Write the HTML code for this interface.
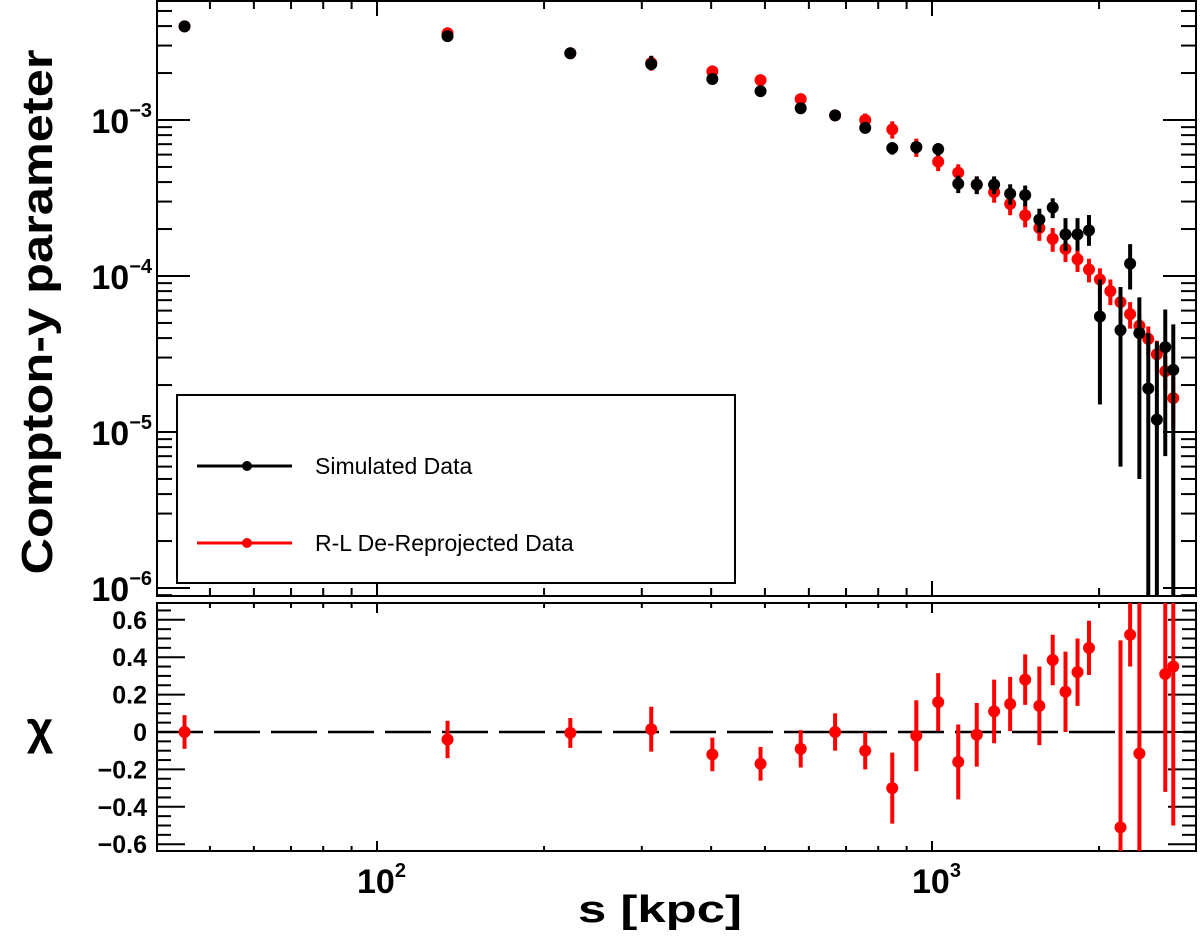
<!DOCTYPE html>
<html><head><meta charset="utf-8"><style>
html,body{margin:0;padding:0;background:#fff;overflow:hidden;}
svg{display:block;font-family:"Liberation Sans",Arial,sans-serif;}
</style></head><body>
<svg id="chart" width="1200" height="941" viewBox="0 0 1200 941"></svg>
<script>
const sKpc=[45,134,223,312,402,491,580,669,758,848,937,1026,1115,1204,1294,1383,1472,1561,1650,1740,1829,1918,2007,2096,2186,2275,2364,2453,2542,2632,2721];
const simY=[3.98e-3,3.45e-3,2.68e-3,2.28e-3,1.83e-3,1.53e-3,1.19e-3,1.07e-3,8.9e-4,6.6e-4,6.7e-4,6.5e-4,3.9e-4,3.85e-4,3.85e-4,3.37e-4,3.3e-4,2.3e-4,2.75e-4,1.85e-4,1.85e-4,1.96e-4,5.5e-5,null,4.5e-5,1.2e-4,4.3e-5,1.9e-5,1.2e-5,3.5e-5,2.5e-5];
const simErrLo=[2e-4,2e-4,1e-4,1e-4,8e-5,6e-5,5e-5,4e-5,4e-5,6e-5,6e-5,6e-5,5e-5,5e-5,5e-5,5e-5,5e-5,4e-5,4e-5,4e-5,4e-5,4e-5,4e-5,null,3.9e-5,3.8e-5,3.8e-5,1.9e-5,1.2e-5,2.8e-5,2.5e-5];
const simErrHi=[2e-4,2e-4,1e-4,3e-4,8e-5,6e-5,5e-5,4e-5,4e-5,6e-5,6e-5,6e-5,5e-5,5e-5,5e-5,5e-5,5e-5,4e-5,4e-5,5e-5,5e-5,5e-5,4e-5,null,4e-5,4e-5,3e-5,2.4e-5,2.6e-5,2.6e-5,2.4e-5];
const rlY=[3.98e-3,3.6e-3,2.68e-3,2.32e-3,2.05e-3,1.8e-3,1.36e-3,1.07e-3,1.0e-3,8.7e-4,6.7e-4,5.4e-4,4.6e-4,3.85e-4,3.45e-4,2.9e-4,2.45e-4,2.03e-4,1.73e-4,1.49e-4,1.28e-4,1.1e-4,9.5e-5,8.0e-5,6.8e-5,5.7e-5,4.8e-5,3.95e-5,3.15e-5,2.45e-5,1.65e-5];
const rlErr=[1.5e-4,3e-4,1e-4,2.5e-4,1.2e-4,1e-4,1e-4,6e-5,1e-4,1.1e-4,9e-5,7e-5,6e-5,5e-5,5e-5,4.5e-5,4e-5,3.5e-5,3e-5,2.6e-5,2.2e-5,1.9e-5,1.7e-5,1.5e-5,1.3e-5,1.1e-5,9e-6,8e-6,7e-6,6e-6,6e-6];
const chiVal=[0,-0.04,-0.005,0.015,-0.12,-0.17,-0.09,0,-0.10,-0.30,-0.02,0.16,-0.16,-0.015,0.11,0.15,0.28,0.14,0.385,0.215,0.32,0.45,null,null,-0.51,0.52,-0.115,null,null,0.31,0.35];
const chiErr=[0.09,0.10,0.08,0.12,0.09,0.09,0.10,0.10,0.10,0.19,0.19,0.155,0.20,0.17,0.17,0.145,0.135,0.21,0.135,0.215,0.18,0.145,null,null,1.0,0.17,1.0,null,null,0.63,0.85];
const yTickExp=[-6,-5,-4,-3];
const chiTicks=[-0.6,-0.4,-0.2,0,0.2,0.4,0.6];
const xTickExp=[2,3];

const NS='http://www.w3.org/2000/svg';
const svg=document.getElementById('chart');
function el(tag,attrs,parent){const e=document.createElementNS(NS,tag);for(const k in attrs)e.setAttribute(k,attrs[k]);(parent||svg).appendChild(e);return e;}
const L=157,R=1196,T=1,B1=596,T2=603,B2=851;
const X=s=>377+555*(Math.log10(s)-2);
const Y=v=>120-156*(Math.log10(v)+3);
const C=v=>732-187*v;
const cT=y=>Math.max(T,Math.min(B1,y));
const cB=y=>Math.max(T2,Math.min(B2,y));
const xMin=Math.pow(10,2+(L-377)/555), xMax=Math.pow(10,2+(R-377)/555);

let f=el('rect',{x:L,y:T,width:R-L,height:B1-T,fill:'none',stroke:'#000','stroke-width':2});

f=el('rect',{x:L,y:T2,width:R-L,height:B2-T2,fill:'none',stroke:'#000','stroke-width':2});


const gx=el('g',{stroke:'#000','stroke-width':2});

for(let d=1;d<=3;d++){for(let m=1;m<10;m++){const s=m*Math.pow(10,d);if(s<xMin||s>xMax)continue;const x=X(s);const maj=m===1;
 el('line',{x1:x,y1:T,x2:x,y2:T+(maj?15:8)},gx);el('line',{x1:x,y1:B1,x2:x,y2:B1-(maj?15:8)},gx);
 el('line',{x1:x,y1:T2,x2:x,y2:T2+(maj?10:5)},gx);el('line',{x1:x,y1:B2,x2:x,y2:B2-(maj?10:5)},gx);}}
xTickExp.forEach(e=>{const t=el('text',{x:X(Math.pow(10,e))-20,y:893,'font-size':34,'font-weight':'bold'});
 
 t.textContent='10';const sup=el('tspan',{'font-size':20,dy:-16},t);sup.textContent=String(e);});

const gy=el('g',{stroke:'#000','stroke-width':2});

for(let d=-7;d<=-2;d++){for(let m=1;m<10;m++){const v=m*Math.pow(10,d);const y=Y(v);if(y<T||y>B1)continue;const len=m===1?33:15;
 el('line',{x1:L,y1:y,x2:L+len,y2:y},gy);el('line',{x1:R,y1:y,x2:R-len,y2:y},gy);}}
yTickExp.forEach(e=>{const t=el('text',{x:152,y:Y(Math.pow(10,e))+13,'font-size':34,'font-weight':'bold','text-anchor':'end'});
 
 const a=el('tspan',{},t);a.textContent='10';const b=el('tspan',{'font-size':20,dy:-16},t);b.textContent='\u2212'+String(-e);});

const gc=el('g',{stroke:'#000','stroke-width':2});

for(let k=-13;k<=13;k++){const v=k*0.05;const y=C(v);if(y<T2||y>B2)continue;const len=(k%4===0)?28:14;
 el('line',{x1:L,y1:y,x2:L+len,y2:y},gc);el('line',{x1:R,y1:y,x2:R-len,y2:y},gc);}
chiTicks.forEach(v=>{const t=el('text',{x:147,y:C(v)+9,'font-size':25,'font-weight':'bold','text-anchor':'end'});
 
 t.textContent=v===0?'0':(v<0?'\u2212':'')+Math.abs(v).toFixed(1);});

const zl=el('line',{x1:L,y1:C(0),x2:R,y2:C(0),stroke:'#000','stroke-width':2.5,'stroke-dasharray':'46,11'});


const gTop=el('g',{});
const gr=el('g',{},gTop);
const gs=el('g',{},gTop);
sKpc.forEach((s,i)=>{const x=X(s);
 if(rlY[i]!=null){const y=Y(rlY[i]);const lo=rlY[i]-rlErr[i];
  el('line',{x1:x,y1:cT(lo>0?Y(lo):B1),x2:x,y2:cT(Y(rlY[i]+rlErr[i])),stroke:'#f00','stroke-width':4},gr);
  const c=el('circle',{cx:x,cy:y,r:6,fill:'#f00'},gr);
  }
});
sKpc.forEach((s,i)=>{const x=X(s);
 if(simY[i]!=null){const y=Y(simY[i]);const lo=simY[i]-simErrLo[i];
  el('line',{x1:x,y1:cT(lo>1e-9?Y(lo):B1),x2:x,y2:cT(Y(simY[i]+simErrHi[i])),stroke:'#000','stroke-width':4},gs);
  const c=el('circle',{cx:x,cy:y,r:6,fill:'#000'},gs);
  }
});

const gBot=el('g',{});

sKpc.forEach((s,i)=>{if(chiVal[i]==null)return;const x=X(s);
 el('line',{x1:x,y1:cB(C(chiVal[i]-chiErr[i])),x2:x,y2:cB(C(chiVal[i]+chiErr[i])),stroke:'#f00','stroke-width':4},gBot);
 const c=el('circle',{cx:x,cy:C(chiVal[i]),r:6,fill:'#f00'},gBot);
 });

const lg=el('g',{});
el('rect',{x:177,y:395,width:558,height:188,fill:'#fff',stroke:'#000','stroke-width':2},lg);
el('line',{x1:197,y1:466,x2:292,y2:466,stroke:'#000','stroke-width':3},lg);
el('circle',{cx:247,cy:466,r:5,fill:'#000'},lg);
let t=el('text',{x:315,y:474,'font-size':23},lg);t.textContent='Simulated Data';

el('line',{x1:197,y1:543,x2:292,y2:543,stroke:'#f00','stroke-width':3},lg);
el('circle',{cx:247,cy:543,r:5,fill:'#f00'},lg);
t=el('text',{x:315,y:551,'font-size':23},lg);t.textContent='R-L De-Reprojected Data';


t=el('text',{x:0,y:0,'font-size':44,'font-weight':'bold','text-anchor':'middle',textLength:525,lengthAdjust:'spacingAndGlyphs',transform:'translate(52,312) rotate(-90)'});
t.textContent='Compton-y parameter';
t=el('text',{x:40,y:744,'font-size':46,'font-weight':'bold','text-anchor':'middle'});
t.textContent='\u03C7';
t=el('text',{x:660,y:922,'font-size':38,'font-weight':'bold','text-anchor':'middle',textLength:164,lengthAdjust:'spacingAndGlyphs'});
t.textContent='s [kpc]';
</script>
</body></html>
